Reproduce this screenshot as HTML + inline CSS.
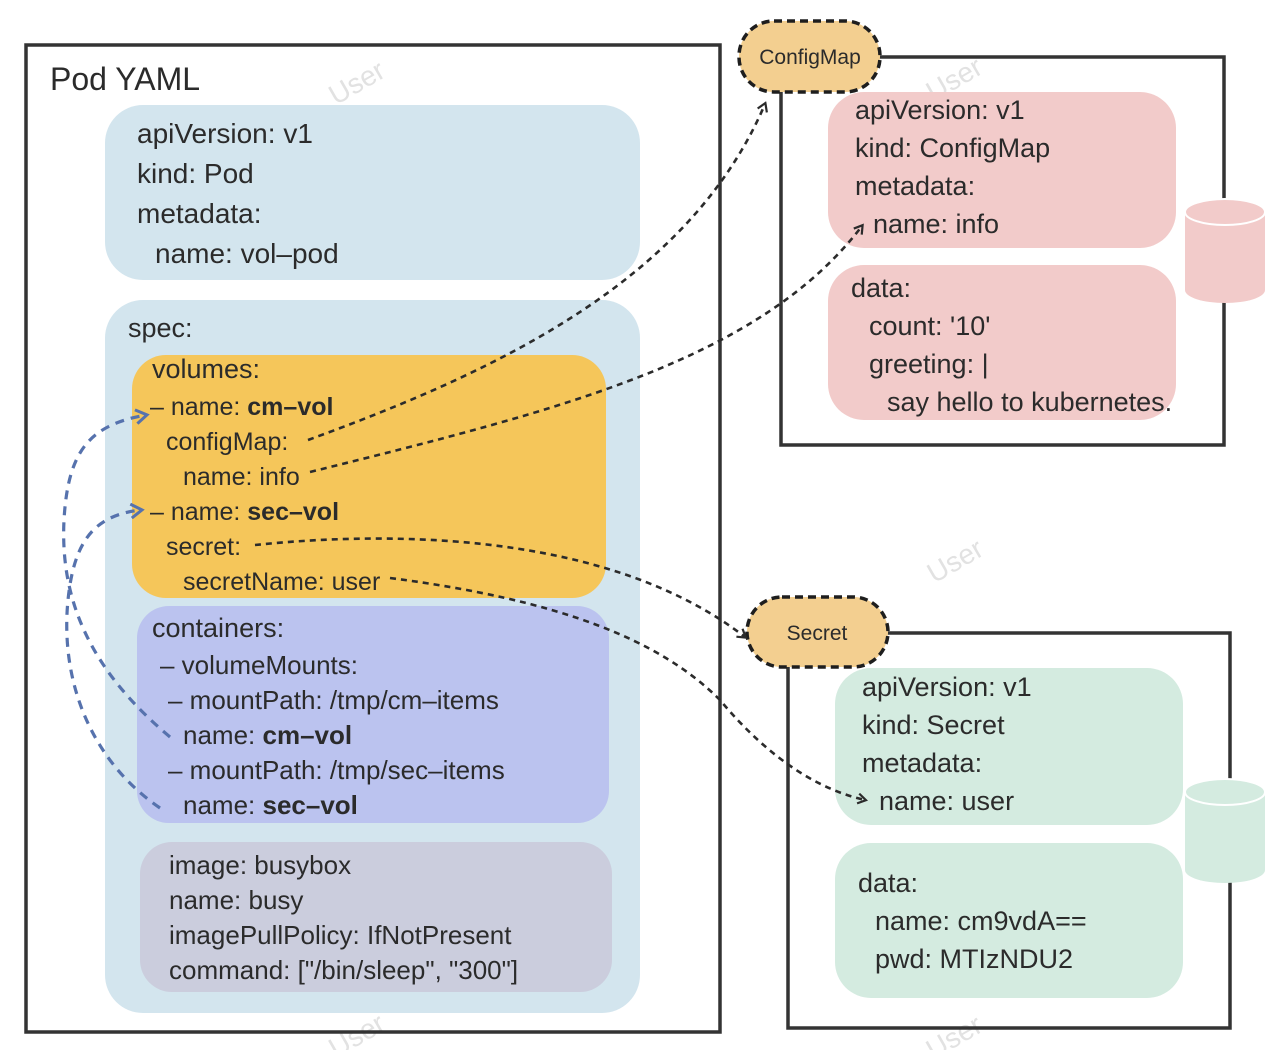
<!DOCTYPE html>
<html><head><meta charset="utf-8"><style>
html,body{margin:0;padding:0;background:#fff;}
svg{display:block;}
text{font-family:"Liberation Sans","DejaVu Sans",sans-serif;fill:#2b2b2b;}
text.wm{fill:#e2e2e2;}
</style></head><body>
<svg width="1272" height="1050" viewBox="0 0 1272 1050" xmlns="http://www.w3.org/2000/svg">
<defs>
<marker id="ab" markerWidth="12" markerHeight="12" refX="9" refY="6" orient="auto" markerUnits="userSpaceOnUse">
<path d="M2,1 L10,6 L2,11" fill="none" stroke="#2b2b2b" stroke-width="2.2"/></marker>
<marker id="ablue" markerWidth="16" markerHeight="16" refX="12" refY="8" orient="auto" markerUnits="userSpaceOnUse">
<path d="M2,1 L13,8 L2,15" fill="none" stroke="#5672ad" stroke-width="3"/></marker>
</defs>

<g font-size="28">
<text class="wm" x="325" y="95" transform="rotate(-30 350 80)">User</text>
<text class="wm" x="922" y="90" transform="rotate(-30 950 75)">User</text>
<text class="wm" x="922" y="572" transform="rotate(-30 950 555)">User</text>
<text class="wm" x="325" y="1048" transform="rotate(-30 350 1033)">User</text>
<text class="wm" x="922" y="1048" transform="rotate(-30 950 1033)">User</text>
</g>

<rect x="26" y="45" width="694" height="987" fill="none" stroke="#333" stroke-width="3.5"/>
<text x="50" y="90" font-size="32">Pod YAML</text>

<rect x="105" y="105" width="535" height="175" rx="38" fill="#d3e5ee"/>
<g font-size="28">
<text x="137" y="143">apiVersion: v1</text>
<text x="137" y="183">kind: Pod</text>
<text x="137" y="223">metadata:</text>
<text x="155" y="263">name: vol–pod</text>
</g>

<rect x="105" y="300" width="535" height="713" rx="38" fill="#d3e5ee"/>
<text x="128" y="337" font-size="27">spec:</text>

<rect x="132" y="355" width="474" height="243" rx="34" fill="#f5c65a"/>
<g font-size="25">
<text x="152" y="378" font-size="27">volumes:</text>
<text x="150" y="415">– name: <tspan font-weight="bold">cm–vol</tspan></text>
<text x="166" y="450">configMap:</text>
<text x="183" y="485">name: info</text>
<text x="150" y="520">– name: <tspan font-weight="bold">sec–vol</tspan></text>
<text x="166" y="555">secret:</text>
<text x="183" y="590">secretName: user</text>
</g>

<rect x="137" y="606" width="472" height="217" rx="32" fill="#bbc3ef"/>
<g font-size="26">
<text x="152" y="637" font-size="27">containers:</text>
<text x="160" y="674">– volumeMounts:</text>
<text x="168" y="709">– mountPath: /tmp/cm–items</text>
<text x="183" y="744">name: <tspan font-weight="bold">cm–vol</tspan></text>
<text x="168" y="779">– mountPath: /tmp/sec–items</text>
<text x="183" y="814">name: <tspan font-weight="bold">sec–vol</tspan></text>
</g>

<rect x="140" y="842" width="472" height="150" rx="32" fill="#cbcddd"/>
<g font-size="26">
<text x="169" y="874">image: busybox</text>
<text x="169" y="909">name: busy</text>
<text x="169" y="944">imagePullPolicy: IfNotPresent</text>
<text x="169" y="979">command: ["/bin/sleep", "300"]</text>
</g>

<rect x="781" y="57" width="443" height="388" fill="none" stroke="#333" stroke-width="3.5"/>
<rect x="828" y="92" width="348" height="156" rx="36" fill="#f2cbca"/>
<rect x="828" y="265" width="348" height="155" rx="36" fill="#f2cbca"/>
<g font-size="27">
<text x="855" y="119">apiVersion: v1</text>
<text x="855" y="157">kind: ConfigMap</text>
<text x="855" y="195">metadata:</text>
<text x="873" y="233">name: info</text>
<text x="851" y="297">data:</text>
<text x="869" y="335">count: '10'</text>
<text x="869" y="373">greeting: |</text>
<text x="887" y="411">say hello to kubernetes.</text>
</g>
<path d="M1185,212 L1185,290 A40,13 0 0 0 1265,290 L1265,212 Z" fill="#f2cbca"/>
<ellipse cx="1225" cy="212" rx="40" ry="13" fill="#f2cbca" stroke="#fff" stroke-width="2"/>

<rect x="739" y="21" width="141" height="71" rx="35" fill="#f3cf90" stroke="#1e1e1e" stroke-width="3.5" stroke-dasharray="8,5"/>
<text x="810" y="64" font-size="21" text-anchor="middle">ConfigMap</text>

<rect x="788" y="633" width="442" height="395" fill="none" stroke="#333" stroke-width="3.5"/>
<rect x="835" y="668" width="348" height="157" rx="36" fill="#d4ebe0"/>
<rect x="835" y="843" width="348" height="155" rx="36" fill="#d4ebe0"/>
<g font-size="27">
<text x="862" y="696">apiVersion: v1</text>
<text x="862" y="734">kind: Secret</text>
<text x="862" y="772">metadata:</text>
<text x="879" y="810">name: user</text>
<text x="858" y="892">data:</text>
<text x="875" y="930">name: cm9vdA==</text>
<text x="875" y="968">pwd: MTIzNDU2</text>
</g>
<path d="M1185,792 L1185,870 A40,13 0 0 0 1265,870 L1265,792 Z" fill="#d4ebe0"/>
<ellipse cx="1225" cy="792" rx="40" ry="13" fill="#d4ebe0" stroke="#fff" stroke-width="2"/>

<rect x="747" y="597" width="141" height="70" rx="35" fill="#f3cf90" stroke="#1e1e1e" stroke-width="3.5" stroke-dasharray="8,5"/>
<text x="817" y="640" font-size="21" text-anchor="middle">Secret</text>

<g fill="none" stroke="#2b2b2b" stroke-width="2.6" stroke-dasharray="6,5">
<path d="M308,440 C500,370 690,280 765,104" marker-end="url(#ab)"/>
<path d="M310,472 C560,410 760,360 862,226" marker-end="url(#ab)"/>
<path d="M255,545 C420,528 620,540 745,637" marker-end="url(#ab)"/>
<path d="M390,578 C560,600 660,640 720,700 C770,760 820,790 865,800" marker-end="url(#ab)"/>
</g>
<g fill="none" stroke="#5672ad" stroke-width="3.2" stroke-dasharray="9,7">
<path d="M170,737 C90,670 60,600 64,520 C68,450 90,425 146,415" marker-end="url(#ablue)"/>
<path d="M160,808 C90,760 60,680 68,600 C74,540 95,515 141,510" marker-end="url(#ablue)"/>
</g>
</svg>
</body></html>
